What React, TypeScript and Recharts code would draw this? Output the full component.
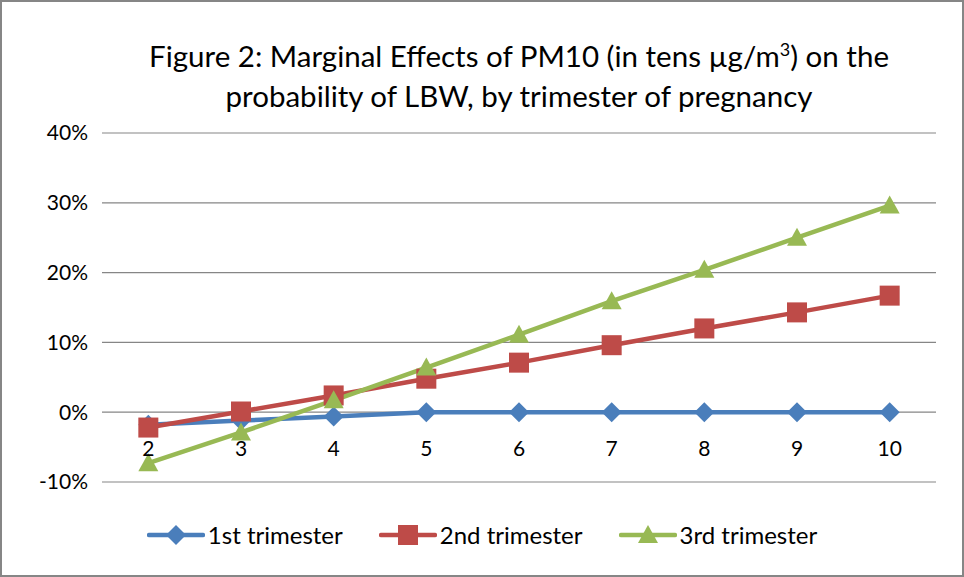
import React from 'react';
import { LineChart, Line, XAxis, YAxis, CartesianGrid, Legend } from 'recharts';

const categories = [2, 3, 4, 5, 6, 7, 8, 9, 10];
const firstTrimester = [-0.018, -0.012, -0.006, 0, 0, 0, 0, 0, 0];
const secondTrimester = [-0.022, 0.001, 0.024, 0.048, 0.071, 0.096, 0.12, 0.143, 0.167];
const thirdTrimester = [-0.073, -0.029, 0.017, 0.064, 0.111, 0.159, 0.204, 0.25, 0.296];
const yTicks = [-0.1, 0, 0.1, 0.2, 0.3, 0.4];
const titleLine1 = 'Figure 2: Marginal Effects of PM10 (in tens µg/m';
const titleLine1b = ') on the';
const titleLine2 = 'probability of LBW, by trimester of pregnancy';

const series = [
  { key: 'first', name: '1st trimester', values: firstTrimester, color: '#4A7EBB', shape: 'diamond' },
  { key: 'second', name: '2nd trimester', values: secondTrimester, color: '#BE4B48', shape: 'square' },
  { key: 'third', name: '3rd trimester', values: thirdTrimester, color: '#98B954', shape: 'triangle' },
];

const data = categories.map((c, i) => ({
  x: c,
  first: firstTrimester[i],
  second: secondTrimester[i],
  third: thirdTrimester[i],
}));

const FONT = 'Lato, "Open Sans", sans-serif';

function Marker({ cx, cy, shape, color }: any) {
  if (cx == null || cy == null) return null;
  if (shape === 'diamond') {
    const s = 10;
    return <polygon points={`${cx},${cy - s} ${cx + s},${cy} ${cx},${cy + s} ${cx - s},${cy}`} fill={color} />;
  }
  if (shape === 'square') {
    const s = 10;
    return <rect x={cx - s} y={cy - s} width={2 * s} height={2 * s} fill={color} />;
  }
  const w = 10;
  return <polygon points={`${cx},${cy - 10} ${cx + w},${cy + 8} ${cx - w},${cy + 8}`} fill={color} />;
}

const XTick = ({ x, y, payload }: any) => (
  <text x={x} y={y - 35} textAnchor="middle" dominantBaseline="central" fontFamily={FONT} fontSize={21} fill="#000">
    {payload.value}
  </text>
);

const LegendContent = () => (
  <div style={{ display: 'flex', justifyContent: 'center', alignItems: 'center', gap: 36, fontFamily: FONT, fontSize: 24, color: '#000' }}>
    {series.map((s) => (
      <div key={s.key} style={{ display: 'flex', alignItems: 'center' }}>
        <svg width={58} height={24} style={{ marginRight: 3 }}>
          <line x1={2} y1={12} x2={56} y2={12} stroke={s.color} strokeWidth={4.5} strokeLinecap="round" />
          <Marker cx={29} cy={12} shape={s.shape} color={s.color} />
        </svg>
        <span>{s.name}</span>
      </div>
    ))}
  </div>
);

export default function App() {
  return (
    <div style={{ position: 'absolute', left: 0, top: 0, width: 964, height: 577, background: '#fff' }}>
      <LineChart width={964} height={577} data={data} margin={{ top: 133, right: 28, bottom: 65, left: 0 }}>
        <CartesianGrid horizontal vertical={false} stroke="#868686" strokeWidth={1.2} />
        <XAxis
          dataKey="x"
          type="number"
          domain={[1.5, 10.5]}
          ticks={categories}
          axisLine={false}
          tickLine={false}
          tickSize={0}
          tickMargin={0}
          tick={<XTick />}
          interval={0}
        />
        <YAxis
          domain={[-0.1, 0.4]}
          ticks={yTicks}
          width={102}
          axisLine={false}
          tickLine={false}
          tickSize={0}
          tickMargin={14}
          tickFormatter={(v: number) => `${Math.round(v * 100)}%`}
          tick={{ fontFamily: FONT, fontSize: 21, fill: '#000' }}
        />
        {series.map((s) => (
          <Line
            key={s.key}
            dataKey={s.key}
            name={s.name}
            stroke={s.color}
            strokeWidth={4.5}
            isAnimationActive={false}
            dot={(p: any) => <Marker key={`${s.key}-${p.index}`} cx={p.cx} cy={p.cy} shape={s.shape} color={s.color} />}
            activeDot={false}
          />
        ))}
        <Legend
          layout="horizontal"
          verticalAlign="middle"
          align="center"
          content={<LegendContent />}
          wrapperStyle={{ position: 'absolute', top: 520, left: 0, width: 964 }}
        />
      </LineChart>
      <div
        style={{
          position: 'absolute',
          left: 0,
          top: 36,
          width: 1038,
          textAlign: 'center',
          fontFamily: FONT,
          fontSize: 29.5,
          lineHeight: '40px',
          color: '#000',
          pointerEvents: 'none',
        }}
      >
        <div>
          {titleLine1}
          <sup style={{ fontSize: 18, lineHeight: 0 }}>3</sup>
          {titleLine1b}
        </div>
        <div>{titleLine2}</div>
      </div>
      <div
        style={{
          position: 'absolute',
          left: 0,
          top: 0,
          width: 964,
          height: 577,
          boxSizing: 'border-box',
          border: '2px solid #868686',
          pointerEvents: 'none',
        }}
      />
    </div>
  );
}
